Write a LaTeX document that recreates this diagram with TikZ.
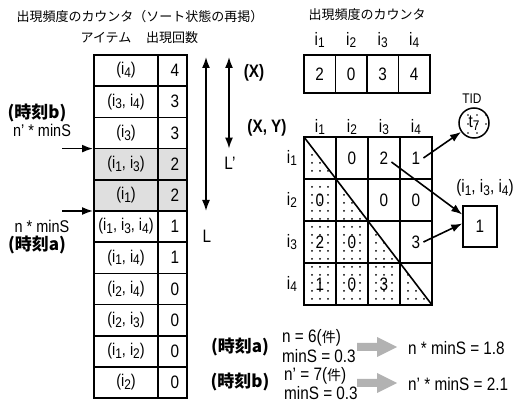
\documentclass[tikz,border=0pt]{standalone}
\usepackage{fontspec}
\setmainfont[FakeStretch=0.85]{Liberation Sans}
\newfontfamily\jp{Noto Sans CJK JP}
\usetikzlibrary{arrows.meta,patterns.meta,calc}
\newcommand\ix[1]{i\raisebox{-0.3ex}{\fontsize{14}{14}\selectfont #1}}
\newcommand\jb[1]{{\jp\bfseries #1}}
\begin{document}
\begin{tikzpicture}[x=1pt,y=-1pt,
  txt/.style={inner sep=0pt, font=\fontsize{18}{18}\selectfont},
  stxt/.style={inner sep=0pt, font=\fontsize{17}{17}\selectfont},
  btxt/.style={inner sep=0pt, font=\bfseries\fontsize{18}{18}\selectfont},
  jtxt/.style={inner sep=0pt, font=\jp\fontsize{13}{13}\selectfont},
  grid/.style={line width=1.6pt},
  arr/.style={line width=1.6pt, -{Latex[length=11pt,width=8pt]}},
  darr/.style={line width=1.6pt, {Latex[length=11pt,width=8pt]}-{Latex[length=11pt,width=8pt]}},
  fat/.style={fill=gray!60},
]
\useasboundingbox (0,0) rectangle (528,403);

% ---------- left: sorted counter ----------
\node[jtxt] (ttl) at (140,17) {出現頻度のカウンタ（ソート状態の再掲）};
\node[jtxt] (hitem) at (106,38) {アイテム};
\node[jtxt] (hcnt) at (172,38) {出現回数};

\fill[gray!25] (94,148.6) rectangle (187,211);
\draw[grid] (94,55) rectangle (187,398.2);
\draw[grid] (158,55) -- (158,398.2);
\foreach \k in {1,...,10} \draw[grid] (94,{55+\k*31.2}) -- (187,{55+\k*31.2});

\foreach \k/\a/\b in {1/{(\ix4)}/4, 2/{(\ix3, \ix4)}/3, 3/{(\ix3)}/3, 4/{(\ix1, \ix3)}/2,
  5/{(\ix1)}/2, 6/{(\ix1, \ix3, \ix4)}/1, 7/{(\ix1, \ix4)}/1, 8/{(\ix2, \ix4)}/0,
  9/{(\ix2, \ix3)}/0, 10/{(\ix1, \ix2)}/0, 11/{(\ix2)}/0}{
  \node[stxt] (it\k) at (126,{55+(\k-0.5)*31.2}) {\a};
  \node[txt] (ct\k) at (175,{55+(\k-0.5)*31.2}) {\b};
}

% threshold arrows
\node[stxt] (tb) at (37,113) {\jb{(時刻b)}};
\node[stxt] (nb) at (42,130) {n' * minS};
\coordinate (pb) at (62,148.6);
\coordinate (qb) at (93,148.6);
\draw[arr] (pb) -- (qb);
\coordinate (pa) at (62,211);
\coordinate (qa) at (93,211);
\draw[arr] (pa) -- (qa);
\node[stxt] (na) at (42,226) {n * minS};
\node[stxt] (ta) at (37,245) {\jb{(時刻a)}};

% L arrows
\coordinate (Lt) at (206,57);
\coordinate (Lb) at (206,211);
\draw[darr] (Lt) -- (Lb);
\node[txt] (L) at (207,236) {L};
\coordinate (Lpt) at (229,57);
\coordinate (Lpb) at (229,148.6);
\draw[darr] (Lpt) -- (Lpb);
\node[txt] (Lp) at (230,163) {L'};
\node[btxt] (X) at (254,73) {(X)};
\node[btxt] (XY) at (267,128) {(X, Y)};

% ---------- right: counters ----------
\node[jtxt] (ttr) at (367,15) {出現頻度のカウンタ};
\foreach \j/\v in {1/2,2/0,3/3,4/4}{
  \node[txt] (h\j) at ({304+(\j-0.5)*31.5},40) {\ix{\j}};
  \node[txt] (c\j) at ({304+(\j-0.5)*31.5},74) {\v};
}
\draw[grid] (304,55) rectangle (430,93);
\foreach \j in {1,2,3} \draw[grid] ({304+\j*31.5},55) -- ({304+\j*31.5},93);

% matrix
\fill[pattern={Dots[radius=1pt,distance=8pt]}, pattern color=black]
  (304,137) -- (432,305) -- (304,305) -- cycle;
\draw[grid] (304,137) rectangle (432,305);
\foreach \j in {1,2,3} \draw[grid] ({304+\j*32},137) -- ({304+\j*32},305);
\foreach \i in {1,2,3} \draw[grid] (304,{137+\i*42}) -- (432,{137+\i*42});
\draw[grid] (304,137) -- (432,305);
\foreach \j in {1,...,4}{
  \node[txt] (ch\j) at ({304+(\j-0.5)*32},127) {\ix{\j}};
  \node[txt] (rh\j) at (292,{137+(\j-0.5)*42}) {\ix{\j}};
}
\foreach \i/\j/\v in {1/2/0,1/3/2,1/4/1,2/1/0,2/3/0,2/4/0,3/1/2,3/2/0,3/4/3,4/1/1,4/2/0,4/3/3}{
  \node[txt] (m\i\j) at ({304+(\j-0.5)*32},{137+(\i-0.5)*42}) {\v};
}

% TID and itemset
\node[inner sep=0pt, font=\fontsize{14}{14}\selectfont] (tid) at (472,99) {TID};
\node[draw, circle, line width=1.5pt, minimum size=30pt, inner sep=0pt,
  pattern={Dots[radius=0.9pt,distance=9pt]}, pattern color=black,
  font=\fontsize{18}{18}\selectfont] (t7) at (474,123) {t\raisebox{-0.3ex}{\fontsize{14}{14}\selectfont 7}};
\node[txt] (iset) at (485,188) {(\ix1, \ix3, \ix4)};
\node[draw, line width=1.5pt, minimum width=34pt, minimum height=41pt, txt] (one) at (480,226.5) {1};

\draw[arr] ([xshift=3pt]m14.east) -- (t7);
\draw[arr] ([shift={(3,4)}]m13.east) -- ($(one.west)+(0,-12)$);
\draw[arr] ([xshift=3pt]m34.east) -- ($(one.west)+(0,-3)$);

% ---------- bottom ----------
\node[stxt] (ba) at (240,347) {\jb{(時刻a)}};
\node[txt, anchor=west] (na1) at (282,338) {n = 6({\jp\fontsize{14}{14}\selectfont 件})};
\node[txt, anchor=west] (na2) at (282,356) {minS = 0.3};
\coordinate (fa) at (357,347);
\fill[fat] (fa) -- ++(0,-4) -- ++(20,0) -- ++(0,-6) -- ++(20,10) -- ++(-20,10) -- ++(0,-6) -- ++(-20,0) -- cycle;
\node[txt, anchor=west] (ra) at (408,348) {n * minS = 1.8};

\node[stxt] (bb) at (240,382) {\jb{(時刻b)}};
\node[txt, anchor=west] (nb1) at (284,376) {n' = 7({\jp\fontsize{14}{14}\selectfont 件})};
\node[txt, anchor=west] (nb2) at (284,393) {minS = 0.3};
\coordinate (fb) at (357,383);
\fill[fat] (fb) -- ++(0,-4) -- ++(20,0) -- ++(0,-6) -- ++(20,10) -- ++(-20,10) -- ++(0,-6) -- ++(-20,0) -- cycle;
\node[txt, anchor=west] (rb) at (408,384) {n' * minS = 2.1};
\end{tikzpicture}
\end{document}
